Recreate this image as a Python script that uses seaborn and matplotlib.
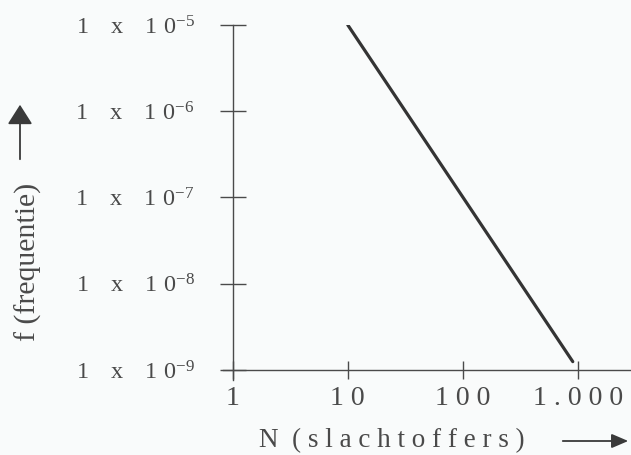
import numpy as np
import pandas as pd
import matplotlib
matplotlib.use('Agg')
import matplotlib.pyplot as plt
import seaborn as sns
from matplotlib.ticker import NullLocator

# f-N curve (f = 1e-3 / N^2)
N = [10, 900]
f = [1e-5, 1.25e-9]

x_ticks = [1, 10, 100, 1000]
x_labels = ['1', '1 0', '1 0 0', '1 . 0 0 0']
y_ticks = [1e-9, 1e-8, 1e-7, 1e-6, 1e-5]
y_exps = [-9, -8, -7, -6, -5]

W, H = 631, 455
bg = '#f9fbfb'
ink = '#4a4a4a'

sns.set_theme(style='white')
plt.rcParams['font.family'] = ['Liberation Serif', 'DejaVu Serif']
plt.rcParams['mathtext.fontset'] = 'custom'
plt.rcParams['mathtext.rm'] = 'Liberation Serif'

fig = plt.figure(figsize=(W / 100, H / 100), dpi=100, facecolor=bg)
# axes box: x=1 at 233 px, 1e-9 at 370 px, decades ~115 px (x) / ~86 px (y)
ax = fig.add_axes([223 / W, 1 - 380 / H, 1 - 223 / W, (380 - 25) / H])
ax.set_facecolor(bg)

df = pd.DataFrame({'N': N, 'f': f})
sns.lineplot(data=df, x='N', y='f', ax=ax, color='#343434', linewidth=2.3)

ax.set_xscale('log')
ax.set_yscale('log')
ax.set_xlim(10 ** -0.084, 10 ** 3.46)
ax.set_ylim(10 ** -9.116, 1e-5)

for s in ['top', 'right']:
    ax.spines[s].set_visible(False)
ax.spines['left'].set_position(('data', 1))
ax.spines['bottom'].set_position(('data', 1e-9))
for s in ['left', 'bottom']:
    ax.spines[s].set_color(ink)
    ax.spines[s].set_linewidth(1.0)

ax.xaxis.set_minor_locator(NullLocator())
ax.yaxis.set_minor_locator(NullLocator())
ax.set_xticks(x_ticks, x_labels)
ax.set_yticks(y_ticks, [r'$\mathregular{1\ \ \;x\ \ \;1\;0^{%d}}$' % e for e in y_exps])
ax.set_xlabel('')
ax.set_ylabel('')

ax.tick_params(bottom=True, left=True)
ax.tick_params(axis='x', direction='inout', length=13.5, width=1.0, color=ink,
               labelsize=20, labelcolor=ink, pad=5)
ax.tick_params(axis='y', direction='inout', length=18.5, width=1.0, color=ink,
               labelsize=17.5, labelcolor=ink, pad=18)

# axis titles
fig.text(392 / W, 1 - 441 / H, 'N  ( s l a c h t o f f e r s )', fontsize=19.5,
         color=ink, ha='center', va='center')
fig.text(28 / W, 1 - 262 / H, 'f (frequentie)', fontsize=21.5, color=ink,
         rotation=90, ha='center', va='center')

fig.add_artist(matplotlib.patches.FancyArrowPatch(
    (560 / W, 1 - 441 / H), (631 / W, 1 - 441 / H), transform=fig.transFigure,
    arrowstyle='-|>,head_length=0.56,head_width=0.24', color='#3a3a3a',
    lw=1.3, mutation_scale=18))
fig.add_artist(matplotlib.patches.FancyArrowPatch(
    (20 / W, 1 - 162 / H), (20 / W, 1 - 102 / H), transform=fig.transFigure,
    arrowstyle='-|>,head_length=0.55,head_width=0.35', color='#3a3a3a',
    lw=1.3, mutation_scale=22))

fig.savefig('out.png', dpi=100, facecolor=bg)
